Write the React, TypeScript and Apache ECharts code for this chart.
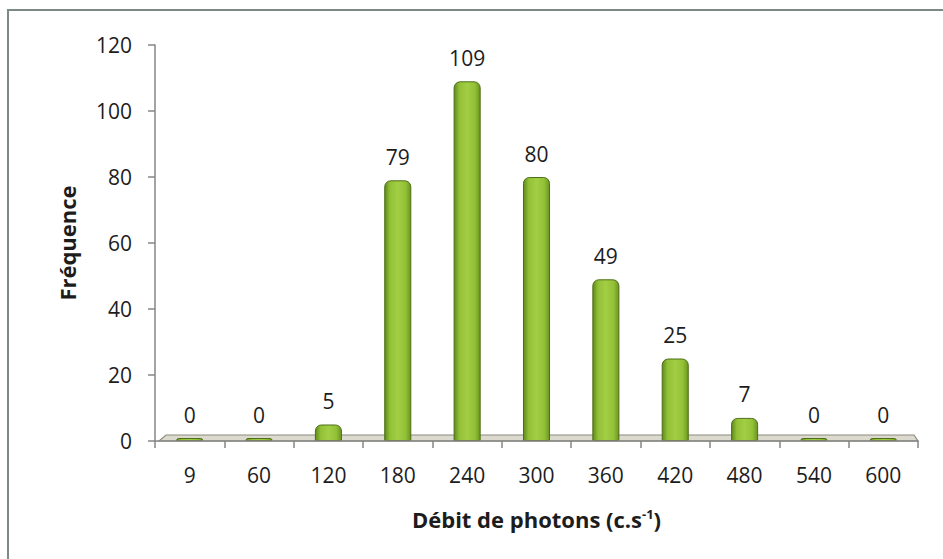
import React, { useEffect, useRef } from "react";
import * as echarts from "echarts";

const categories = ["9", "60", "120", "180", "240", "300", "360", "420", "480", "540", "600"];
const frequencies = [0, 0, 5, 79, 109, 80, 49, 25, 7, 0, 0];
const yTitle = "Fréquence";
const xTitleMain = "Débit de photons (c.s";
const xTitleSup = "-1";

const W = 943;
const H = 559;
const GRID_LEFT = 155;
const GRID_RIGHT = 25;
const GRID_TOP = 45;
const GRID_BOTTOM = 118;
const FONT = "'Open Sans', 'Noto Sans', sans-serif";
const TEXT = "#1c1c1c";

export default function App() {
  const ref = useRef<HTMLDivElement>(null);
  useEffect(() => {
    document.body.style.margin = "0";
    const chart = echarts.init(ref.current!, null, { renderer: "svg" });
    const x0 = GRID_LEFT;
    const x1 = W - GRID_RIGHT;
    const y = H - GRID_BOTTOM;
    chart.setOption({
      animation: false,
      backgroundColor: "#ffffff",
      grid: { left: GRID_LEFT, right: GRID_RIGHT, top: GRID_TOP, bottom: GRID_BOTTOM },
      graphic: [
        {
          type: "rect",
          z: 0,
          shape: { x: 8, y: 10, width: 980, height: 620 },
          style: { fill: "none", stroke: "#7d8a84", lineWidth: 2 },
        },
        {
          type: "polygon",
          z: 1,
          shape: {
            points: [
              [x0 + 4, y],
              [x0 + 11, y - 6],
              [x1 - 4, y - 6],
              [x1, y],
            ],
          },
          style: { fill: "#dcd9cf", stroke: "#8c8c7c", lineWidth: 1.2 },
        },
      ],
      xAxis: {
        type: "category",
        data: categories,
        name: `{a|${xTitleMain}}{s|${xTitleSup}}{a|)}`,
        nameLocation: "middle",
        nameGap: 66,
        nameTextStyle: {
          rich: {
            a: { fontFamily: FONT, fontWeight: "bold", fontSize: 22, color: TEXT },
            s: { fontFamily: FONT, fontWeight: "bold", fontSize: 13, color: TEXT, verticalAlign: "top", padding: [0, 0, 11, 0] },
          },
        },
        axisLine: { lineStyle: { color: "#868686", width: 1.5 } },
        axisTick: { show: true, length: 7, lineStyle: { color: "#868686", width: 1.5 } },
        axisLabel: { fontFamily: FONT, fontSize: 21, color: TEXT, margin: 23 },
        z: 3,
      },
      yAxis: {
        type: "value",
        min: 0,
        max: 120,
        interval: 20,
        name: yTitle,
        nameLocation: "middle",
        nameRotate: 90,
        nameGap: 77,
        nameTextStyle: { fontFamily: FONT, fontWeight: "bold", fontSize: 22, color: TEXT },
        axisLine: { show: true, lineStyle: { color: "#868686", width: 1.5 } },
        axisTick: { show: true, length: 7, lineStyle: { color: "#868686", width: 1.5 } },
        axisLabel: { fontFamily: FONT, fontSize: 21, color: TEXT, margin: 23 },
        splitLine: { show: false },
      },
      series: [
        {
          type: "bar",
          data: frequencies,
          barWidth: "39%",
          barMinHeight: 3,
          z: 2,
          itemStyle: {
            color: new echarts.graphic.LinearGradient(0, 0, 1, 0, [
              { offset: 0, color: "#5f8a1c" },
              { offset: 0.2, color: "#92c036" },
              { offset: 0.5, color: "#a2ce44" },
              { offset: 0.8, color: "#92c036" },
              { offset: 1, color: "#6b961f" },
            ]),
            borderColor: "#4e6e16",
            borderWidth: 1,
            borderRadius: [6, 6, 0, 0],
          },
          label: {
            show: true,
            position: "top",
            distance: 13,
            fontFamily: FONT,
            fontSize: 21,
            color: TEXT,
          },
        },
      ],
    });
    return () => chart.dispose();
  }, []);
  return <div ref={ref} style={{ width: W, height: H }} />;
}
